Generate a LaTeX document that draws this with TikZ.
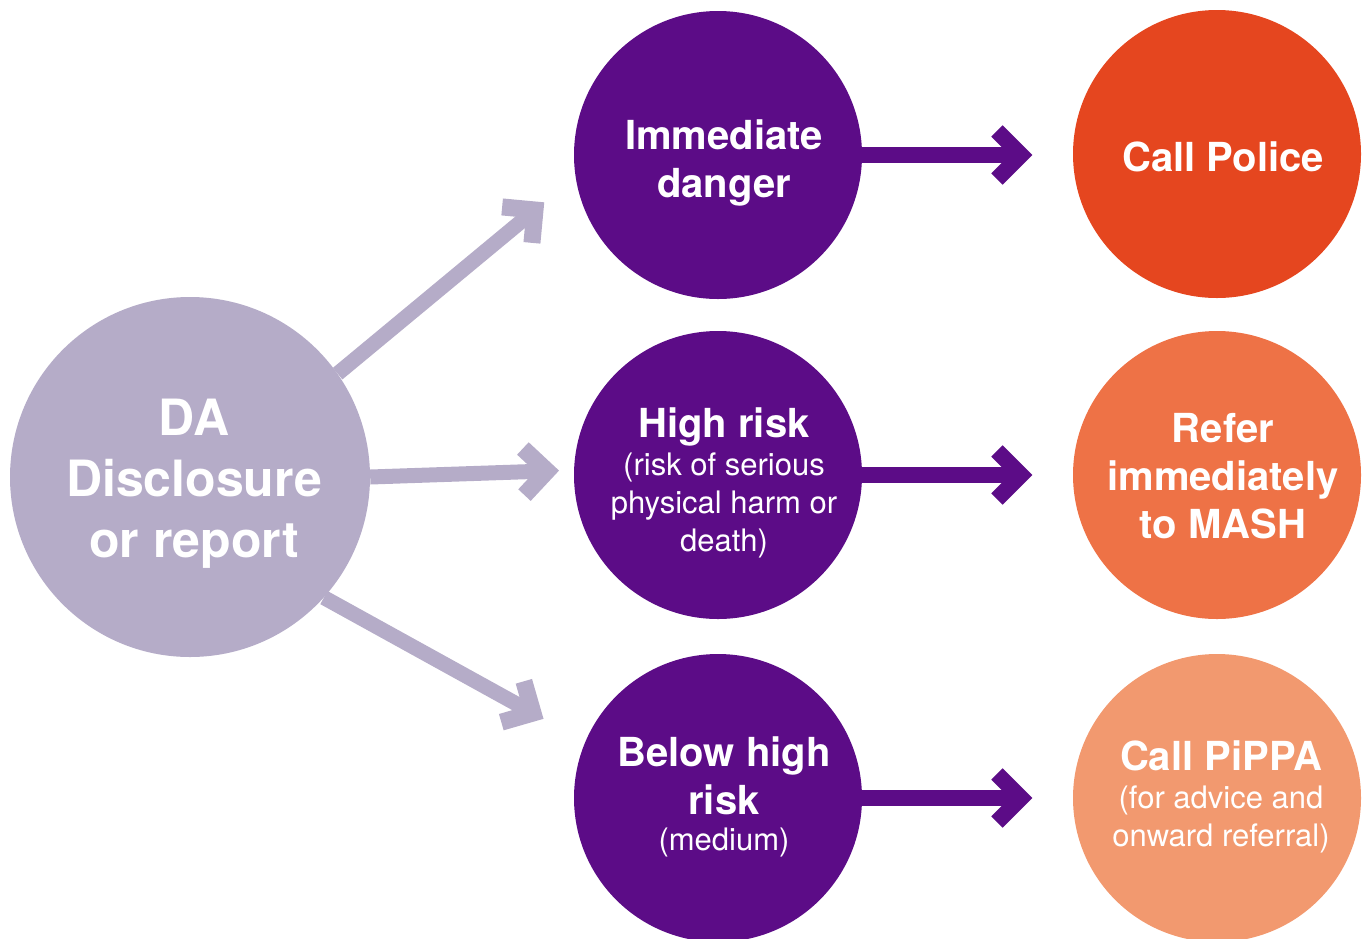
\documentclass[tikz,border=0pt]{standalone}
\usepackage{fontspec}
\setmainfont{TeX Gyre Heros}
\usetikzlibrary{calc}
\definecolor{dalilac}{HTML}{B5ACC8}
\definecolor{deeppurple}{HTML}{5C0C87}
\definecolor{policered}{HTML}{E5461F}
\definecolor{mashorange}{HTML}{EE7246}
\definecolor{pippapeach}{HTML}{F2996F}
\begin{document}
\begin{tikzpicture}[x=1pt,y=-1pt,
  disc/.style={circle, inner sep=0pt, minimum size=288pt},
  txt/.style={text=white, align=center, inner sep=0pt},
  bigbold/.style={txt, font=\bfseries\fontsize{40}{48}\selectfont},
  mixtxt/.style={txt, font=\fontsize{31}{38}\selectfont},
  gshaft/.style={draw=dalilac, line width=15pt},
  gchev/.style={draw=dalilac, line width=17pt, line join=miter, line cap=butt},
  pshaft/.style={draw=deeppurple, line width=16pt},
  pchev/.style={draw=deeppurple, line width=16pt, line join=miter, line cap=butt}
]
\useasboundingbox (0,0) rectangle (1362,938);

% circles
\node[disc, minimum size=360pt, fill=dalilac,
  label={[txt, font=\bfseries\fontsize{50}{61}\selectfont, xshift=4pt, yshift=-7pt]center:{DA\\Disclosure\\or report}}] (da) at (190,477) {};

\node[disc, fill=deeppurple,
  label={[bigbold, xshift=6pt, yshift=-8pt]center:{Immediate\\danger}}] (imm) at (718,155) {};
\node[disc, fill=deeppurple,
  label={[mixtxt, xshift=6pt, yshift=-8pt]center:{{\bfseries\fontsize{40}{48}\selectfont High risk}\\(risk of serious\\physical harm or\\death)}}] (high) at (718,475) {};
\node[disc, fill=deeppurple,
  label={[mixtxt, xshift=6pt, yshift=1pt]center:{{\bfseries\fontsize{40}{48}\selectfont Below high}\\[9pt]{\bfseries\fontsize{40}{48}\selectfont risk}\\[-2pt](medium)}}] (below) at (718,798) {};

\node[disc, fill=policered,
  label={[bigbold, xshift=6pt, yshift=-3pt]center:{Call Police}}] (police) at (1217,154) {};
\node[disc, fill=mashorange,
  label={[bigbold, xshift=6pt, yshift=-1.5pt]center:{Refer\\immediately\\to MASH}}] (mash) at (1217,475) {};
\node[disc, fill=pippapeach,
  label={[mixtxt, xshift=4pt, yshift=1pt]center:{{\bfseries\fontsize{40}{48}\selectfont Call PiPPA}\\(for advice and\\onward referral)}}] (pippa) at (1217,798) {};

% grey arrows
\coordinate (g1) at (535,210);
\coordinate (g2) at (547,471);
\coordinate (g3) at (533,713);
\draw[gshaft] (da.35) -- (g1);
\draw[gchev] ($(g1)!33pt!45:(da.35)$) -- (g1) -- ($(g1)!33pt!-45:(da.35)$);
\draw[gshaft] (da.0) -- (g2);
\draw[gchev] ($(g2)!33pt!45:(da.0)$) -- (g2) -- ($(g2)!33pt!-45:(da.0)$);
\draw[gshaft] (da.-42) -- (g3);
\draw[gchev] ($(g3)!33pt!45:(da.-42)$) -- (g3) -- ($(g3)!33pt!-45:(da.-42)$);

% purple arrows
\coordinate (p1) at (1021,155);
\coordinate (p2) at (1021,475);
\coordinate (p3) at (1021,798);
\draw[pshaft] (imm.east) -- (p1);
\draw[pchev] ($(p1)!34pt!45:(imm.east)$) -- (p1) -- ($(p1)!34pt!-45:(imm.east)$);
\draw[pshaft] (high.east) -- (p2);
\draw[pchev] ($(p2)!34pt!45:(high.east)$) -- (p2) -- ($(p2)!34pt!-45:(high.east)$);
\draw[pshaft] (below.east) -- (p3);
\draw[pchev] ($(p3)!34pt!45:(below.east)$) -- (p3) -- ($(p3)!34pt!-45:(below.east)$);
\end{tikzpicture}
\end{document}
